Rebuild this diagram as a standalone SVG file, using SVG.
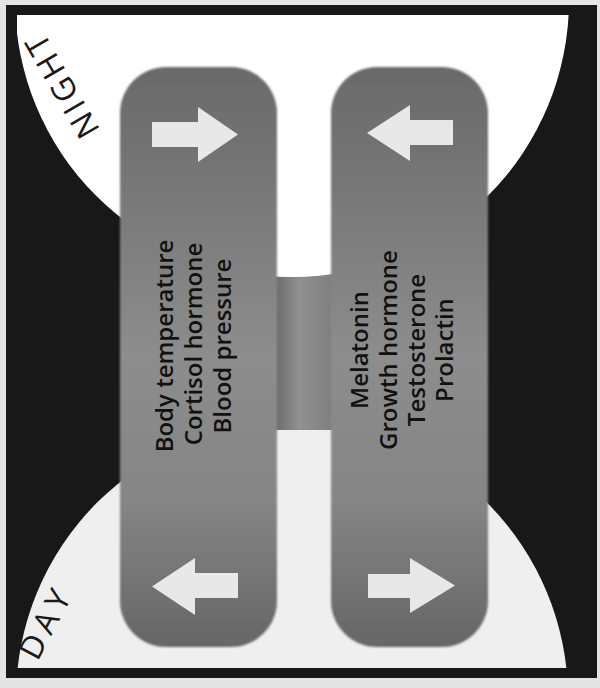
<svg xmlns="http://www.w3.org/2000/svg" width="600" height="688" viewBox="0 0 600 688">
<defs>
<style>
.panel{filter:url(#soft);}
.arrow{fill:#e8e8e8;}
.t{font-family:"Open Sans","Liberation Sans",sans-serif;font-weight:600;font-size:24px;fill:#111;text-anchor:middle;}
.lbl{font-family:"Open Sans","Liberation Sans",sans-serif;font-weight:400;font-size:32px;fill:#1a1a1a;text-anchor:middle;}
</style>
<linearGradient id="pg" x1="0" y1="0" x2="0" y2="1">
<stop offset="0" stop-color="#6a6a6a"/>
<stop offset="0.15" stop-color="#737373"/>
<stop offset="0.5" stop-color="#8d8d8d"/>
<stop offset="0.75" stop-color="#858585"/>
<stop offset="1" stop-color="#666666"/>
</linearGradient>
<linearGradient id="ng" x1="0" y1="0" x2="1" y2="0">
<stop offset="0" stop-color="#6a6a6a"/>
<stop offset="0.4" stop-color="#919191"/>
<stop offset="1" stop-color="#7e7e7e"/>
</linearGradient>
<filter id="soft" x="-5%" y="-5%" width="110%" height="110%">
<feGaussianBlur stdDeviation="1.2"/>
</filter>
<clipPath id="inner"><rect x="17" y="15" width="570" height="653"/></clipPath>
</defs>
<rect x="0" y="0" width="600" height="688" fill="#e4e4e4"/>
<rect x="6" y="5" width="591" height="673" fill="#181818"/>
<g clip-path="url(#inner)">
<circle id="day-area" cx="292" cy="698" r="276" fill="#efefef"/>
</g>
<g id="neck">
<rect x="275" y="262" width="59" height="168" fill="url(#ng)"/>
</g>
<g clip-path="url(#inner)">
<circle id="night-area" cx="292" cy="0" r="277" fill="#ffffff"/>
</g>
<g id="left-panel">
<rect class="panel" x="120" y="67" width="157" height="580" rx="46" fill="url(#pg)"/>
<polygon class="arrow" points="152,122 198,122 198,107 238,134.5 198,162 198,147 152,147"/>
<polygon class="arrow" points="238,573 195,573 195,558 152,586.5 195,615 195,598 238,598"/>
<text class="t" x="173" y="346" transform="rotate(-90 173 346)">Body temperature</text>
<text class="t" x="202" y="344" transform="rotate(-90 202 344)">Cortisol hormone</text>
<text class="t" x="231" y="346" transform="rotate(-90 231 346)">Blood pressure</text>
</g>
<g id="right-panel">
<rect class="panel" x="331" y="67" width="157" height="580" rx="46" fill="url(#pg)"/>
<polygon class="arrow" points="453,120 410,120 410,105 367,133 410,161 410,145 453,145"/>
<polygon class="arrow" points="368,574 410,574 410,558 455,585.5 410,613 410,598 368,598"/>
<text class="t" x="368" y="350" transform="rotate(-90 368 350)">Melatonin</text>
<text class="t" x="397" y="350" transform="rotate(-90 397 350)">Growth hormone</text>
<text class="t" x="425" y="350" transform="rotate(-90 425 350)">Testosterone</text>
<text class="t" x="453" y="350" transform="rotate(-90 453 350)">Prolactin</text>
</g>
<g id="night-label">
<text class="lbl" x="71" y="79" letter-spacing="4" transform="rotate(-120 71 79)">NIGHT</text>
</g>
<g id="day-label">
<text class="lbl" x="56" y="627" letter-spacing="6" transform="rotate(-62 56 627)">DAY</text>
</g>
<g id="connectors"></g>
</svg>
